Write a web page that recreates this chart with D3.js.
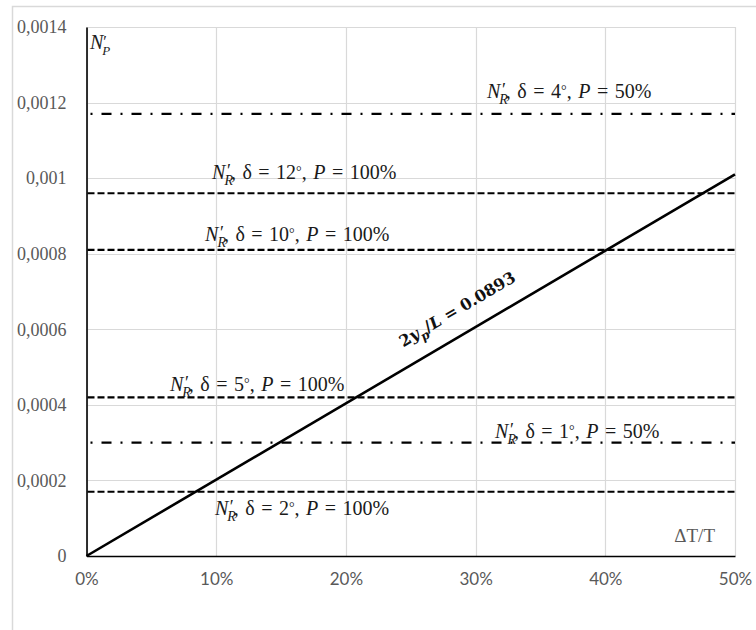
<!DOCTYPE html>
<html>
<head>
<meta charset="utf-8">
<script src="https://cdn.jsdelivr.net/npm/d3@7"></script>
<style>
  html, body { margin: 0; padding: 0; background: #fff; }
  svg { display: block; }
</style>
</head>
<body>
<svg id="chart" width="756" height="630"></svg>
<script>
// ---------- data ----------
const xTickValues = [0, 0.1, 0.2, 0.3, 0.4, 0.5];
const xTickLabels = ["0%", "10%", "20%", "30%", "40%", "50%"];
const yTickValues = [0, 0.0002, 0.0004, 0.0006, 0.0008, 0.001, 0.0012, 0.0014];
const yTickLabels = ["0", "0,0002", "0,0004", "0,0006", "0,0008", "0,001", "0,0012", "0,0014"];

// reference levels N'_R
const refValues = [0.00117, 0.00096, 0.00081, 0.00042, 0.0003, 0.00017];
const refDelta  = [4, 12, 10, 5, 1, 2];
const refP      = [50, 100, 100, 100, 50, 100];

// proportional line 2y_p/L = 0.0893
const diagX = [0, 0.5];
const diagY = [0, 0.00101];
const diagLabel = "0.0893";

const xTitle = "ΔT/T";

// ---------- layout (not data) ----------
const W = 756, H = 630;
const plot = { left: 86.5, right: 735, top: 27, bottom: 556 };
// label anchor: start x in data units, baseline offset in px from its line
const labelX  = [0.3088, 0.0968, 0.0914, 0.0644, 0.315, 0.099];
const labelDy = [-16, -14, -9, -6, -5, 23];

const svg = d3.select("#chart");

const x = d3.scaleLinear().domain([0, 0.5]).range([plot.left, plot.right]);
const y = d3.scaleLinear().domain([0, 0.0014]).range([plot.bottom, plot.top]);

// outer chart frame
svg.append("rect")
  .attr("x", 12.5).attr("y", 6.5).attr("width", 800).attr("height", 700)
  .attr("fill", "none").attr("stroke", "#d9d9d9").attr("stroke-width", 1.5);

// gridlines
svg.append("g").selectAll("line").data(yTickValues).join("line")
  .attr("x1", plot.left).attr("x2", plot.right)
  .attr("y1", d => Math.round(y(d)) + 0.5).attr("y2", d => Math.round(y(d)) + 0.5)
  .attr("stroke", "#d9d9d9").attr("stroke-width", 1.2);
svg.append("g").selectAll("line").data(xTickValues).join("line")
  .attr("y1", plot.top).attr("y2", plot.bottom)
  .attr("x1", d => Math.round(x(d)) + 0.5).attr("x2", d => Math.round(x(d)) + 0.5)
  .attr("stroke", "#d9d9d9").attr("stroke-width", 1.2);

// axes (D3 axes, with domain lines as the dark frame)
const yAxis = d3.axisLeft(y).tickValues(yTickValues)
  .tickFormat((d, i) => yTickLabels[i]).tickSize(0).tickPadding(20);
const gy = svg.append("g").attr("transform", `translate(${plot.left},0)`).call(yAxis);
gy.select(".domain").attr("stroke", "#000").attr("stroke-width", 1.6);
gy.selectAll("text")
  .attr("font-family", "'Liberation Serif', 'Times New Roman', serif")
  .attr("font-size", 18).attr("fill", "#595959").attr("dy", "0.32em");

const xAxis = d3.axisBottom(x).tickValues(xTickValues)
  .tickFormat((d, i) => xTickLabels[i]).tickSize(0).tickPadding(17);
const gx = svg.append("g").attr("transform", `translate(0,${plot.bottom})`).call(xAxis);
gx.select(".domain").attr("stroke", "#000").attr("stroke-width", 1.6);
gx.selectAll("text")
  .attr("font-family", "Lato, 'Open Sans', sans-serif")
  .attr("font-size", 17).attr("fill", "#595959");

// axis titles
svg.append("text")
  .attr("x", 715).attr("y", 542).attr("text-anchor", "end")
  .attr("font-family", "'Liberation Serif', 'Times New Roman', serif")
  .attr("font-size", 19).attr("fill", "#595959")
  .text(xTitle);

// mathematical label: base letter, prime, subscript
function mathSym(t, base, sub, subSize, primeSize) {
  t.append("tspan").attr("font-style", "italic").text(base);
  t.append("tspan").attr("font-size", subSize).attr("font-style", "italic").attr("dx", -1).attr("dy", 6).text(sub);
  t.append("tspan").attr("font-size", primeSize).attr("dx", -7).attr("dy", -8).text("′");
  t.append("tspan").attr("dy", 2).text("");
}

const yT = svg.append("text")
  .attr("x", 90).attr("y", 49)
  .attr("font-family", "'Liberation Serif', 'DejaVu Serif', serif")
  .attr("font-size", 20).attr("fill", "#222");
mathSym(yT, "N", "P", 13, 16);

// reference lines
const refs = refValues.map((v, i) => ({ v, delta: refDelta[i], p: refP[i], lx: labelX[i], ldy: labelDy[i] }));
svg.append("g").selectAll("line").data(refs).join("line")
  .attr("x1", plot.left + 1).attr("x2", plot.right)
  .attr("y1", d => y(d.v)).attr("y2", d => y(d.v))
  .attr("stroke", "#000").attr("stroke-width", 2.2)
  .attr("stroke-dasharray", d => d.p === 50 ? "10,9,2,9" : "7,3")
  .attr("stroke-dashoffset", d => d.p === 50 ? 16 : 0);

// reference labels
const labG = svg.append("g")
  .attr("font-family", "'Liberation Serif', 'DejaVu Serif', serif")
  .attr("font-size", 20).attr("fill", "#1a1a1a")
  .attr("word-spacing", 1.5);
refs.forEach(d => {
  const t = labG.append("text").attr("x", x(d.lx)).attr("y", y(d.v) + d.ldy);
  t.append("tspan").attr("font-style", "italic").text("N");
  t.append("tspan").attr("font-size", 14).attr("font-style", "italic").attr("dx", -1).attr("dy", 6).text("R");
  t.append("tspan").attr("font-size", 18).attr("dx", -6).attr("dy", -8).text("′");
  t.append("tspan").attr("dy", 2).text(", δ = " + d.delta);
  t.append("tspan").attr("font-size", 14).attr("dy", -3).text("°");
  t.append("tspan").attr("dy", 3).text(", ");
  t.append("tspan").attr("font-style", "italic").text("P");
  t.append("tspan").text(" = " + d.p + "%");
});

// diagonal line
const diag = diagX.map((v, i) => [v, diagY[i]]);
svg.append("path")
  .datum(diag)
  .attr("d", d3.line().x(d => x(d[0])).y(d => y(d[1])))
  .attr("fill", "none").attr("stroke", "#000").attr("stroke-width", 2.6);

// diagonal label
const ang = -Math.atan2(y(diag[0][1]) - y(diag[1][1]), x(diag[1][0]) - x(diag[0][0])) * 180 / Math.PI;
const cx = 460, cy = 314;
const dt = svg.append("text")
  .attr("transform", `translate(${cx},${cy}) rotate(${ang})`)
  .attr("text-anchor", "middle")
  .attr("font-family", "'DejaVu Serif', 'Liberation Serif', serif")
  .attr("font-weight", "bold").attr("font-size", 16).attr("fill", "#111");
dt.append("tspan").text("2");
dt.append("tspan").attr("font-style", "italic").text("y");
dt.append("tspan").attr("font-style", "italic").attr("font-size", 12).attr("dy", 5).text("p");
dt.append("tspan").attr("dy", -5).text("/");
dt.append("tspan").attr("font-style", "italic").text("L");
dt.append("tspan").text(" = " + diagLabel);
</script>
</body>
</html>
